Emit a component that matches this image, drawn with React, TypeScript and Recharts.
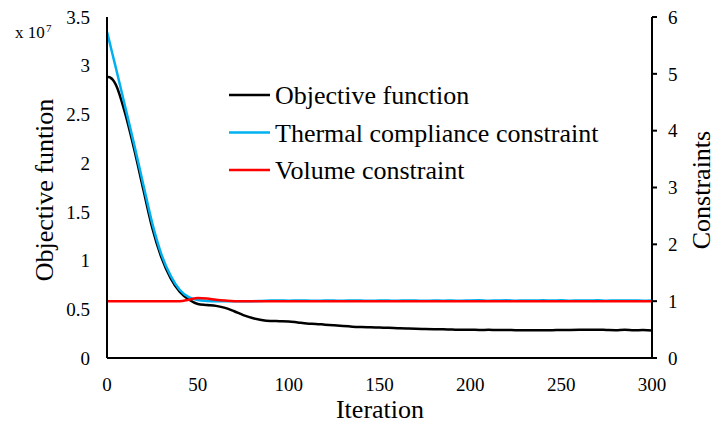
import React from 'react';
import { LineChart, Line, XAxis, YAxis } from 'recharts';

// Iteration numbers at which the histories were sampled
const iterations = [
  0, 1, 2, 3, 4, 5,
  10, 15, 20, 25, 30, 35, 40, 45, 50, 55, 60, 65, 70, 75, 80, 85, 90, 95, 100,
  105, 110, 115, 120, 125, 130, 135, 140, 145, 150, 155, 160, 165, 170, 175, 180,
  185, 190, 195, 200, 205, 210, 215, 220, 225, 230, 235, 240, 245, 250, 255, 260,
  265, 270, 275, 280, 285, 290, 295, 300,
];

// Objective function history (x 10^7), left axis
const objective = [
  2.88, 2.885, 2.875, 2.86, 2.835, 2.8,
  2.51, 2.14, 1.73, 1.33, 1.03, 0.82, 0.68, 0.6, 0.555, 0.545, 0.535, 0.515, 0.48, 0.44, 0.41, 0.39, 0.38, 0.378, 0.375,
  0.365, 0.355, 0.35, 0.342, 0.335, 0.328, 0.322, 0.318, 0.315, 0.312, 0.31, 0.306, 0.303, 0.3, 0.298, 0.296,
  0.294, 0.292, 0.29, 0.29, 0.288, 0.289, 0.287, 0.287, 0.286, 0.286, 0.285, 0.285, 0.286, 0.287, 0.288, 0.289,
  0.29, 0.291, 0.288, 0.286, 0.29, 0.285, 0.287, 0.283,
];

// Thermal compliance constraint history, right axis
const thermal = [
  5.74, 5.61, 5.48, 5.35, 5.22, 5.09,
  4.42, 3.75, 3.05, 2.36, 1.82, 1.45, 1.2, 1.07, 1.02, 1.005, 1.0, 1.0, 1.0, 1.0, 1.0, 1.005, 1.01, 1.012, 1.008,
  1.012, 1.01, 1.006, 1.012, 1.01, 1.008, 1.013, 1.01, 1.007, 1.012, 1.01, 1.008, 1.012, 1.01, 1.006, 1.012,
  1.009, 1.011, 1.007, 1.012, 1.014, 1.008, 1.012, 1.015, 1.009, 1.013, 1.01, 1.015, 1.01, 1.016, 1.009, 1.013,
  1.01, 1.014, 1.008, 1.012, 1.01, 1.013, 1.009, 1.012,
];

// Volume constraint history, right axis
const volume = [
  1.0, 1.0, 1.0, 1.0, 1.0, 1.0,
  1.0, 1.0, 1.0, 1.0, 1.0, 1.0, 1.0, 1.025, 1.055, 1.045, 1.025, 1.01, 1.0, 1.0, 1.0, 1.0, 1.0, 1.0, 1.0,
  1.0, 1.0, 1.0, 1.0, 1.0, 1.0, 1.0, 1.0, 1.0, 1.0, 1.0, 1.0, 1.0, 1.0, 1.0, 1.0,
  1.0, 1.0, 1.0, 1.0, 1.0, 1.0, 1.0, 1.0, 1.0, 1.0, 1.0, 1.0, 1.0, 1.0, 1.0, 1.0,
  1.0, 1.0, 1.0, 1.0, 1.0, 1.0, 1.0, 1.0,
];

const xTicks = [0, 50, 100, 150, 200, 250, 300];
const leftTicks = [0, 0.5, 1, 1.5, 2, 2.5, 3, 3.5];
const rightTicks = [0, 1, 2, 3, 4, 5, 6];

const series = [
  { key: 'objective', name: 'Objective function', color: '#000000', axis: 'left' },
  { key: 'thermal', name: 'Thermal compliance constraint', color: '#00B0F0', axis: 'right' },
  { key: 'volume', name: 'Volume constraint', color: '#FF0000', axis: 'right' },
];

const data = iterations.map((it, i) => ({
  iteration: it,
  objective: objective[i],
  thermal: thermal[i],
  volume: volume[i],
}));

const FONT = "'Liberation Serif', 'Times New Roman', serif";
const textStyle = { fontFamily: FONT };

// Tick label renderer; anchor and vertical shift depend on the axis side
const makeTick = (anchor: 'start' | 'middle' | 'end', dy: string) => (props: any) => {
  const { x, y, payload } = props;
  return (
    <text x={x} y={y} dy={dy} textAnchor={anchor} style={textStyle} fontSize={19} fill="#000">
      {String(payload.value)}
    </text>
  );
};

const BottomTick = makeTick('middle', '0.71em');
const LeftTick = makeTick('end', '0.355em');
const RightTick = makeTick('start', '0.355em');

export default function App() {
  return (
    <div
      style={{
        position: 'absolute',
        left: 0,
        top: 0,
        width: 716,
        height: 425,
        background: '#fff',
        fontFamily: FONT,
      }}
    >
      <LineChart
        width={716}
        height={425}
        data={data}
        margin={{ top: 17, right: 0, bottom: 0, left: 0 }}
        style={{ fontFamily: FONT }}
      >
        <XAxis
          dataKey="iteration"
          type="number"
          domain={[0, 300]}
          ticks={xTicks}
          tickLine={false}
          tickMargin={14}
          axisLine={{ stroke: '#000', strokeWidth: 2 }}
          tick={BottomTick}
          height={67}
          interval={0}
        />
        <YAxis
          yAxisId="left"
          domain={[0, 3.5]}
          ticks={leftTicks}
          tickLine={false}
          tickMargin={11}
          axisLine={{ stroke: '#000', strokeWidth: 2 }}
          tick={LeftTick}
          width={107}
          interval={0}
        />
        <YAxis
          yAxisId="right"
          orientation="right"
          domain={[0, 6]}
          ticks={rightTicks}
          tickSize={5}
          tickMargin={11}
          tickLine={{ stroke: '#000', strokeWidth: 2 }}
          axisLine={{ stroke: '#000', strokeWidth: 2 }}
          tick={RightTick}
          width={64}
          interval={0}
        />
        {series.map((s) => (
          <Line
            key={s.key}
            yAxisId={s.axis}
            dataKey={s.key}
            name={s.name}
            type="monotone"
            stroke={s.color}
            strokeWidth={2.5}
            dot={false}
            activeDot={false}
            isAnimationActive={false}
          />
        ))}

        {/* axis titles */}
        <text x={380} y={418} textAnchor="middle" style={textStyle} fontSize={26} fill="#000">
          Iteration
        </text>
        <text
          x={53}
          y={190}
          transform="rotate(-90 53 190)"
          textAnchor="middle"
          style={textStyle}
          fontSize={26}
          fill="#000"
        >
          Objective funtion
        </text>
        <text
          x={710}
          y={190}
          transform="rotate(-90 710 190)"
          textAnchor="middle"
          style={textStyle}
          fontSize={26}
          fill="#000"
        >
          Constraints
        </text>
        <text x={15} y={38} style={textStyle} fontSize={17} fill="#000">
          x 10
        </text>
        <text x={46} y={32} style={textStyle} fontSize={11} fill="#000">
          7
        </text>

        {/* legend */}
        {series.map((s, i) => {
          const cy = 95 + i * 37.5;
          return (
            <g key={`lg-${s.key}`}>
              <line x1={229} x2={270} y1={cy} y2={cy} stroke={s.color} strokeWidth={2.5} />
              <text x={275} y={cy + 9} style={textStyle} fontSize={26} fill="#000">
                {s.name}
              </text>
            </g>
          );
        })}
      </LineChart>
    </div>
  );
}
